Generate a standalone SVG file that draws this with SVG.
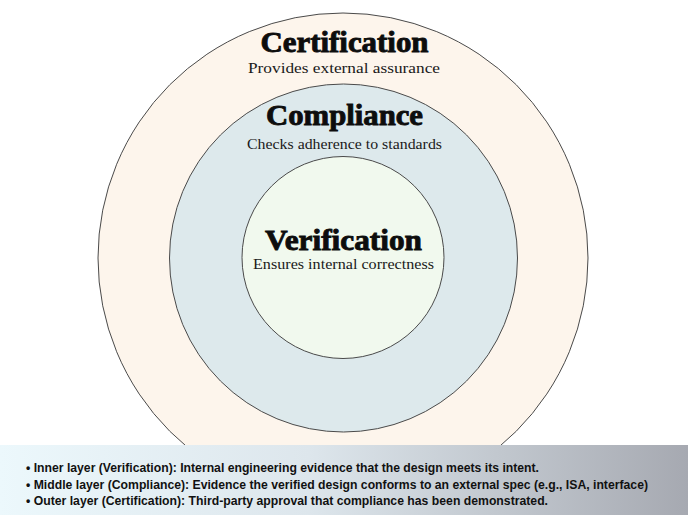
<svg xmlns="http://www.w3.org/2000/svg" width="688" height="515" viewBox="0 0 688 515">
<defs>
<linearGradient id="panelGrad" x1="0" y1="0" x2="1" y2="0">
<stop offset="0" stop-color="#ecf8fc"/>
<stop offset="0.45" stop-color="#dde6ec"/>
<stop offset="1" stop-color="#a6a9b1"/>
</linearGradient>
</defs>
<style>
.ring{stroke:#4a4a4a;stroke-width:1}
.title{font-family:"Liberation Serif","DejaVu Serif",serif;font-weight:bold;font-size:30px;fill:#0d0d0d;stroke:#0d0d0d;stroke-width:0.9;text-anchor:middle}
.sub{font-family:"Liberation Serif","DejaVu Serif",serif;font-size:15px;fill:#1a1a1a;text-anchor:middle}
.note{font-family:"Liberation Sans","Arial",sans-serif;font-weight:bold;font-size:13px;fill:#111}
</style>
<rect width="688" height="515" fill="#ffffff"/>
<g id="outer">
<circle class="ring" cx="343" cy="258" r="245" fill="#fdf5ec"/>
<text class="title" x="344.5" y="52" textLength="168" lengthAdjust="spacingAndGlyphs">Certification</text>
<text class="sub" x="344" y="72.5" textLength="192" lengthAdjust="spacingAndGlyphs">Provides external assurance</text>
</g>
<g id="middle">
<circle class="ring" cx="343.5" cy="258" r="174" fill="#dde9ec"/>
<text class="title" x="344.5" y="124.5" textLength="157" lengthAdjust="spacingAndGlyphs">Compliance</text>
<text class="sub" x="344.5" y="148.5" textLength="195" lengthAdjust="spacingAndGlyphs">Checks adherence to standards</text>
</g>
<g id="inner">
<circle class="ring" cx="343" cy="257.5" r="101" fill="#f1f9ee"/>
<text class="title" x="343.5" y="249.5" textLength="157" lengthAdjust="spacingAndGlyphs">Verification</text>
<text class="sub" x="343.5" y="268.5" textLength="181" lengthAdjust="spacingAndGlyphs">Ensures internal correctness</text>
</g>
<g id="connectors"></g>
<g id="notes">
<rect x="0" y="445" width="688" height="70" fill="url(#panelGrad)"/>
<text class="note" x="26" y="471.5" textLength="513" lengthAdjust="spacingAndGlyphs">• Inner layer (Verification): Internal engineering evidence that the design meets its intent.</text>
<text class="note" x="26" y="488.5" textLength="622" lengthAdjust="spacingAndGlyphs">• Middle layer (Compliance): Evidence the verified design conforms to an external spec (e.g., ISA, interface)</text>
<text class="note" x="26" y="505" textLength="522" lengthAdjust="spacingAndGlyphs">• Outer layer (Certification): Third-party approval that compliance has been demonstrated.</text>
</g>
</svg>
